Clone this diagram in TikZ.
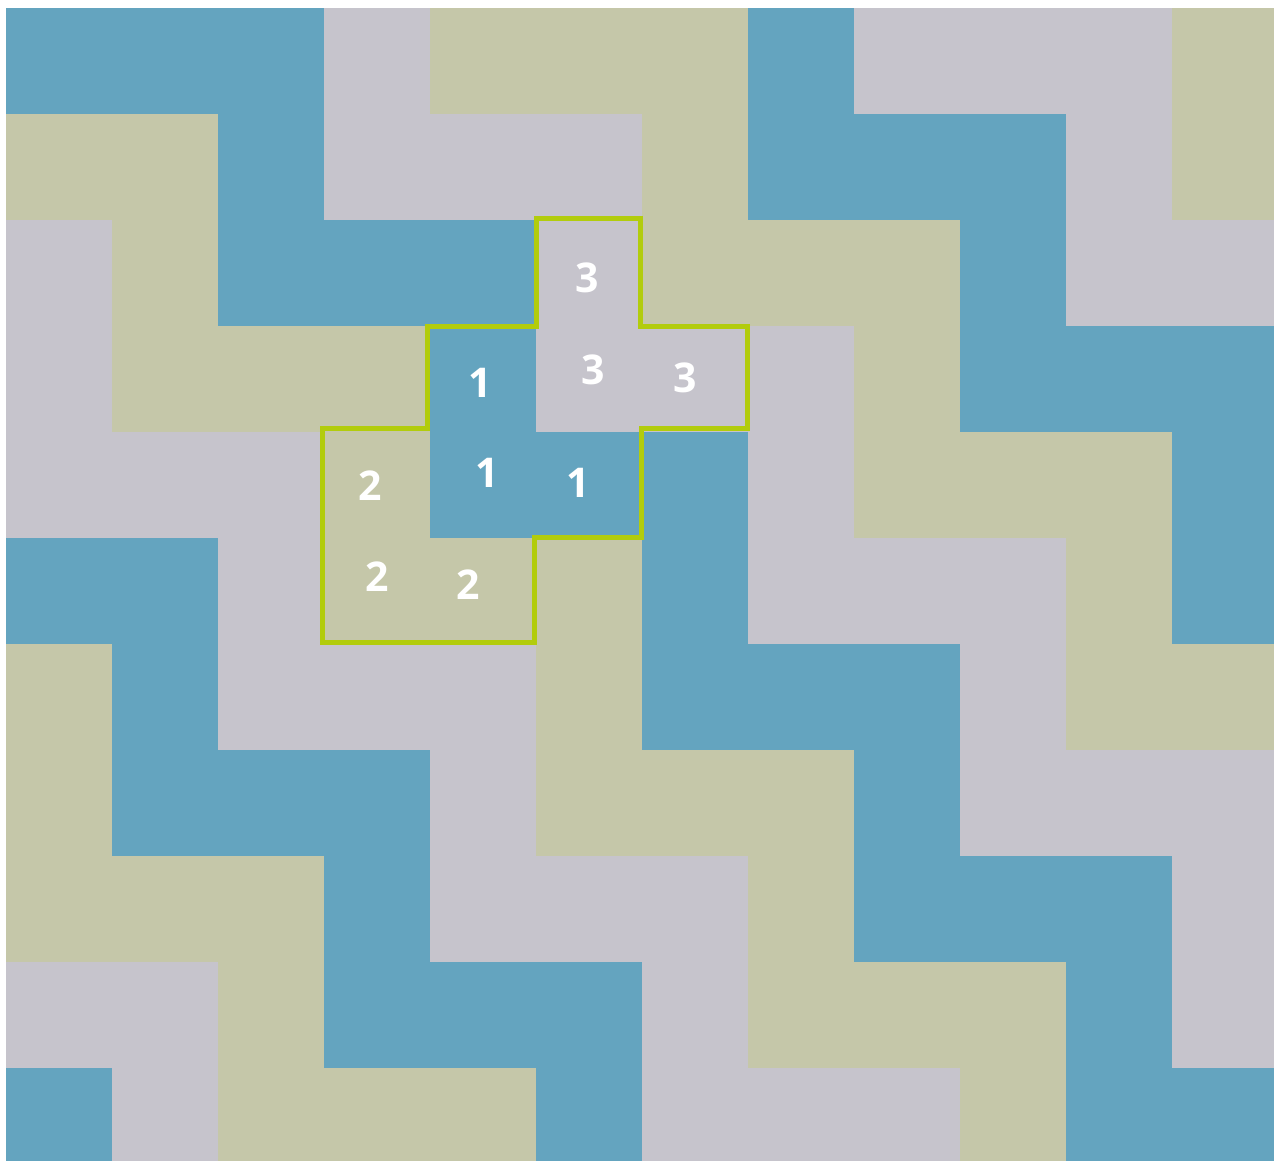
\documentclass[tikz,border=0pt]{standalone}
\usepackage{fontspec}
\setmainfont{Open Sans}
\definecolor{tB}{HTML}{64A4BF}
\definecolor{tG}{HTML}{C6C4CC}
\definecolor{tK}{HTML}{C5C7A9}
\definecolor{outl}{HTML}{B2CC0C}
\tikzset{
  num/.style={text=white, inner sep=0pt, font=\fontsize{41}{41}\selectfont\bfseries},
  outline/.style={draw=outl, line width=5pt, line join=miter}
}
\begin{document}
\begin{tikzpicture}[x=1pt,y=-1pt]
\useasboundingbox (0,0) rectangle (1274,1164);
\fill[white] (0,0) rectangle (1274,1164);
\begin{scope}
\clip (6,8) rectangle (1274,1160);
\foreach \row [count=\r from 0] in {
  {B,B,B,G,K,K,K,B,G,G,G,K},
  {K,K,B,G,G,G,K,B,B,B,G,K},
  {G,K,B,B,B,G,K,K,K,B,G,G},
  {G,K,K,K,B,G,G,G,K,B,B,B},
  {G,G,G,K,B,B,B,G,K,K,K,B},
  {B,B,G,K,K,K,B,G,G,G,K,B},
  {K,B,G,G,G,K,B,B,B,G,K,K},
  {K,B,B,B,G,K,K,K,B,G,G,G},
  {K,K,K,B,G,G,G,K,B,B,B,G},
  {G,G,K,B,B,B,G,K,K,K,B,G},
  {B,G,K,K,K,B,G,G,G,K,B,B}} {
  \foreach \col [count=\c from 0] in \row {
    \fill[t\col] ({6+106*\c},{8+106*\r}) rectangle +(106.6,106.6);
  }
}
\end{scope}
\draw[outline] (536,218) -- (640,218) -- (640,326) -- (747,326) -- (747,428)
  -- (641,428) -- (641,537) -- (534,537) -- (534,642) -- (322,642)
  -- (322,428) -- (427,428) -- (427,326) -- (536,326) -- cycle;
\node[num] (t1) at (587,278) {3};
\node[num] (t2) at (593,370) {3};
\node[num] (t3) at (685,378) {3};
\node[num] (b1) at (480,383) {1};
\node[num] (b2) at (487,473) {1};
\node[num] (b3) at (578,483) {1};
\node[num] (k1) at (370,486) {2};
\node[num] (k2) at (377,577) {2};
\node[num] (k3) at (468,585) {2};
\end{tikzpicture}
\end{document}
